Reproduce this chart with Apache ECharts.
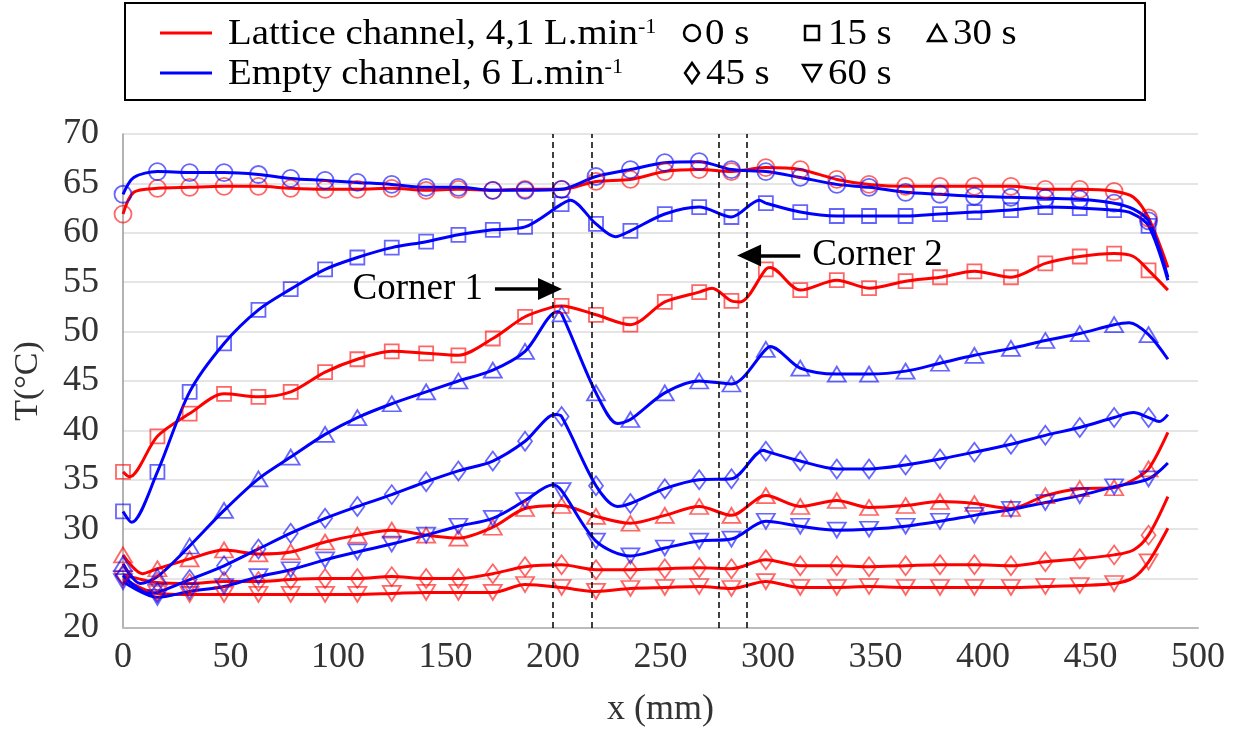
<!DOCTYPE html>
<html>
<head>
<meta charset="utf-8">
<script src="https://cdn.jsdelivr.net/npm/echarts@6/dist/echarts.min.js"></script>
<style>
  html, body { margin: 0; padding: 0; background: #fff; }
  #chart { width: 1238px; height: 733px; }
</style>
</head>
<body>
<div id="chart"></div>
<script>
// marker positions along the channel (mm)
var markerX = [0, 16, 31, 47, 63, 78, 94, 109, 125, 141, 156, 172, 187, 204, 220, 236,
  252, 268, 283, 299, 315, 332, 347, 364, 380, 396, 413, 429, 445, 461, 477];

// lattice channel, 4,1 L/min
var latt0 = [61.9, 64.5, 64.6, 64.7, 64.7, 64.5, 64.4, 64.4, 64.5, 64.3, 64.4, 64.3, 64.4, 64.4, 65.2, 65.4,
  66.2, 66.4, 66.2, 66.6, 66.4, 65.4, 64.9, 64.7, 64.7, 64.7, 64.7, 64.4, 64.4, 64.2, 61.5];
var latt15 = [35.8, 39.4, 41.7, 43.7, 43.4, 43.9, 45.9, 47.2, 48.0, 47.8, 47.6, 49.3, 51.5, 52.6, 51.7, 50.7,
  53.0, 54.0, 53.1, 56.3, 54.2, 55.2, 54.4, 55.1, 55.5, 56.1, 55.5, 56.9, 57.6, 57.9, 56.2];
var latt30 = [27.4, 26.0, 27.0, 27.9, 27.5, 27.7, 28.7, 29.4, 29.9, 29.4, 29.1, 30.2, 32.1, 32.4, 31.3, 30.6,
  31.4, 32.3, 31.4, 33.4, 32.3, 32.9, 32.2, 32.4, 32.8, 32.6, 32.1, 33.4, 34.1, 34.2, 36.1];
var latt45 = [25.4, 24.6, 24.5, 24.7, 24.7, 24.9, 25.0, 25.0, 25.2, 25.0, 25.0, 25.5, 26.2, 26.4, 25.9, 25.9,
  26.0, 26.1, 26.0, 26.9, 26.3, 26.3, 26.2, 26.3, 26.4, 26.4, 26.3, 26.7, 27.0, 27.4, 29.4];
var latt60 = [25.0, 23.5, 23.4, 23.4, 23.4, 23.4, 23.4, 23.4, 23.5, 23.6, 23.6, 23.6, 24.4, 24.1, 23.7, 24.0,
  24.1, 24.2, 24.0, 24.7, 24.1, 24.1, 24.2, 24.1, 24.1, 24.1, 24.1, 24.2, 24.3, 24.5, 26.7];

// empty channel, 6 L/min
var empty0 = [63.9, 66.2, 66.1, 66.1, 65.9, 65.5, 65.3, 65.1, 64.9, 64.6, 64.6, 64.3, 64.3, 64.4, 65.7, 66.4,
  67.1, 67.2, 66.4, 66.2, 65.6, 64.9, 64.6, 64.1, 63.9, 63.7, 63.6, 63.5, 63.4, 63.0, 61.2];
var empty15 = [31.8, 35.8, 43.9, 48.8, 52.2, 54.3, 56.3, 57.5, 58.5, 59.1, 59.8, 60.3, 60.6, 62.9, 60.9, 60.2,
  61.9, 62.6, 61.6, 63.0, 62.1, 61.7, 61.7, 61.7, 61.9, 62.1, 62.3, 62.6, 62.5, 62.3, 60.7];
var empty30 = [26.5, 25.2, 28.3, 31.9, 35.1, 37.3, 39.6, 41.3, 42.7, 43.9, 45.0, 46.1, 48.0, 51.8, 43.8, 41.1,
  43.8, 45.0, 44.7, 48.2, 46.3, 45.7, 45.7, 46.0, 46.8, 47.6, 48.3, 49.1, 49.8, 50.7, 49.7];
var empty45 = [25.3, 23.6, 24.9, 26.3, 28.0, 29.6, 31.1, 32.3, 33.5, 34.8, 35.9, 36.9, 38.9, 41.4, 34.4, 32.6,
  34.1, 35.0, 35.1, 37.9, 36.9, 36.1, 36.1, 36.5, 37.1, 37.8, 38.6, 39.5, 40.3, 41.3, 41.3];
var empty60 = [24.7, 23.1, 23.7, 24.2, 25.2, 25.9, 26.9, 27.7, 28.5, 29.4, 30.3, 31.1, 32.9, 33.9, 28.8, 27.3,
  28.1, 28.8, 29.0, 30.8, 30.3, 29.9, 30.0, 30.3, 30.8, 31.4, 32.0, 32.7, 33.4, 34.3, 35.1];

// extra points of the measured curves between markers [x, T]
var latt0Extra = [[5, 64.1], [470, 63.6], [486, 56.5]];
var latt15Extra = [[3, 35.3], [200, 52.5], [274, 54.4], [287, 53.0], [301, 56.5], [470, 57.6], [486, 54.2]];
var latt30Extra = [[9, 25.5], [470, 35.0], [486, 39.8]];
var latt45Extra = [[470, 27.9], [486, 33.3]];
var latt60Extra = [[470, 25.1], [486, 30.1]];
var empty0Extra = [[5, 65.6], [470, 62.4], [486, 55.5]];
var empty15Extra = [[4, 30.7], [208, 63.3], [229, 59.6], [296, 63.3], [469, 62.0], [486, 55.2]];
var empty30Extra = [[8, 24.5], [202, 52.0], [230, 40.7], [301, 48.5], [468, 50.9], [486, 47.2]];
var empty45Extra = [[12, 23.5], [201, 41.6], [230, 32.3], [298, 38.0], [470, 41.8], [482, 40.9], [486, 41.6]];
var empty60Extra = [[200, 34.5], [486, 36.7]];

var cornerX = [200, 218, 277, 290];

var RED = '#ff0000', BLUE = '#0000ff';
var RED_M = 'rgba(255,0,0,0.75)', BLUE_M = 'rgba(0,0,255,0.75)';
var SERIF = 'Liberation Serif';

function merge(vals, extra) {
    return markerX.map(function (x, i) { return [x, vals[i]]; })
        .concat(extra)
        .sort(function (a, b) { return a[0] - b[0]; });
}

function curve(vals, extra, color) {
    return {
        type: 'line',
        data: merge(vals, extra),
        smooth: 0.3,
        showSymbol: false,
        silent: true,
        lineStyle: {color: color, width: 3},
        z: 3
    };
}

function marks(vals, color, symbol, size, rotate) {
    return {
        type: 'scatter',
        data: markerX.map(function (x, i) { return [x, vals[i]]; }),
        symbol: symbol,
        symbolSize: size,
        symbolRotate: rotate || 0,
        silent: true,
        itemStyle: {color: 'rgba(0,0,0,0)', borderColor: color, borderWidth: 1.8},
        z: 4
    };
}

function arrow(from, to, text) {
    return {
        type: 'line',
        data: [],
        silent: true,
        markLine: {
            silent: true,
            symbol: ['none', 'triangle'],
            symbolSize: [22, 24],
            animation: false,
            lineStyle: {color: '#000', width: 3.5, type: 'solid'},
            label: {
                show: true, position: 'start', formatter: text, distance: 12,
                color: '#000', fontFamily: SERIF, fontSize: 37
            },
            data: [[{coord: from}, {coord: to}]]
        }
    };
}

var series = [
    curve(latt0, latt0Extra, RED),
    curve(latt15, latt15Extra, RED),
    curve(latt30, latt30Extra, RED),
    curve(latt45, latt45Extra, RED),
    curve(latt60, latt60Extra, RED),
    curve(empty0, empty0Extra, BLUE),
    curve(empty15, empty15Extra, BLUE),
    curve(empty30, empty30Extra, BLUE),
    curve(empty45, empty45Extra, BLUE),
    curve(empty60, empty60Extra, BLUE),
    marks(latt0, RED_M, 'circle', 17),
    marks(latt15, RED_M, 'rect', 14),
    marks(latt30, RED_M, 'triangle', [18, 15]),
    marks(latt45, RED_M, 'diamond', [14, 19]),
    marks(latt60, RED_M, 'triangle', [18, 15], 180),
    marks(empty0, BLUE_M, 'circle', 17),
    marks(empty15, BLUE_M, 'rect', 14),
    marks(empty30, BLUE_M, 'triangle', [18, 15]),
    marks(empty45, BLUE_M, 'diamond', [14, 19]),
    marks(empty60, BLUE_M, 'triangle', [18, 15], 180),
    arrow([173, 54.3], [198.6, 54.3], 'Corner 1'),
    arrow([315, 57.7], [291.2, 57.7], 'Corner 2')
];

// dashed lines at the corners
series[0].markLine = {
    silent: true,
    symbol: 'none',
    animation: false,
    label: {show: false},
    lineStyle: {type: [6, 4], color: '#000', width: 1.5},
    data: cornerX.map(function (x) { return {xAxis: x}; })
};

var legendText = {fontFamily: SERIF, fontSize: 35, fill: '#000'};
function ltext(x, y, str) {
    return {
        type: 'text', x: x, y: y, scaleX: 1.11, z: 101,
        style: {
            text: str, verticalAlign: 'middle', align: 'left',
            rich: {
                a: legendText,
                s: {fontFamily: SERIF, fontSize: 20, fill: '#000', verticalAlign: 'top'}
            },
            fontFamily: SERIF, fontSize: 35, fill: '#000'
        }
    };
}
var sym = {fill: 'none', stroke: '#000', lineWidth: 2.5};

var graphic = [
    {type: 'rect', z: 100, shape: {x: 125, y: 3, width: 1020, height: 97},
        style: {fill: '#fff', stroke: '#000', lineWidth: 2}},
    {type: 'line', z: 101, shape: {x1: 160, y1: 33, x2: 212, y2: 33}, style: {stroke: RED, lineWidth: 3}},
    {type: 'line', z: 101, shape: {x1: 160, y1: 73, x2: 212, y2: 73}, style: {stroke: BLUE, lineWidth: 3}},
    ltext(228, 35, '{a|Lattice channel, 4,1 L.min}{s|-1}'),
    ltext(228, 75, '{a|Empty channel, 6 L.min}{s|-1}'),
    {type: 'circle', z: 101, shape: {cx: 692, cy: 33, r: 8}, style: sym},
    ltext(705, 35, '{a|0 s}'),
    {type: 'rect', z: 101, shape: {x: 805, y: 26, width: 14, height: 14}, style: sym},
    ltext(828, 35, '{a|15 s}'),
    {type: 'polygon', z: 101, shape: {points: [[928, 41], [946, 41], [937, 25]]}, style: sym},
    ltext(953, 35, '{a|30 s}'),
    {type: 'polygon', z: 101, shape: {points: [[692, 63], [699, 73], [692, 83], [685, 73]]}, style: sym},
    ltext(706, 75, '{a|45 s}'),
    {type: 'polygon', z: 101, shape: {points: [[803, 65], [821, 65], [812, 81]]}, style: sym},
    ltext(828, 75, '{a|60 s}')
];

var axisLabel = {color: '#333', fontFamily: SERIF, fontSize: 36};

var option = {
    animation: false,
    backgroundColor: '#fff',
    grid: {left: 123, right: 40, top: 134, bottom: 96},
    xAxis: {
        type: 'value', min: 0, max: 500, interval: 50,
        name: 'x (mm)', nameLocation: 'middle', nameGap: 64,
        nameTextStyle: {color: '#333', fontFamily: SERIF, fontSize: 36},
        axisLine: {show: true, lineStyle: {color: '#bbb', width: 2}},
        axisTick: {show: false},
        splitLine: {show: false},
        axisLabel: Object.assign({margin: 12}, axisLabel)
    },
    yAxis: {
        type: 'value', min: 20, max: 70, interval: 5,
        name: 'T(°C)', nameLocation: 'middle', nameGap: 78,
        nameTextStyle: {color: '#333', fontFamily: SERIF, fontSize: 34},
        axisLine: {show: true, lineStyle: {color: '#999', width: 1.5}},
        axisTick: {show: false},
        splitLine: {show: true, lineStyle: {color: '#dcdcdc', width: 1.5}},
        axisLabel: Object.assign({margin: 24}, axisLabel)
    },
    graphic: graphic,
    series: series
};

var chart = echarts.init(document.getElementById('chart'));
chart.setOption(option);
</script>
</body>
</html>
